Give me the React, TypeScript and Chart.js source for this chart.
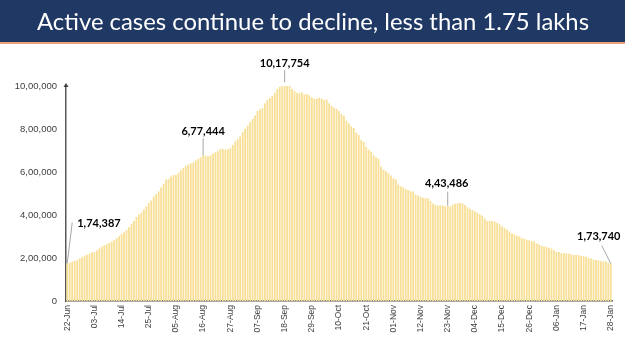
import React, { useEffect, useRef } from 'react';
import { Chart, registerables } from 'chart.js';

Chart.register(...registerables);

const TITLE = 'Active cases continue to decline, less than 1.75 lakhs';
const START = { year: 2020, month: 5, day: 22 };
const DAY_COUNT = 221;
const MONTHS = ['Jan', 'Feb', 'Mar', 'Apr', 'May', 'Jun', 'Jul', 'Aug', 'Sep', 'Oct', 'Nov', 'Dec'];
const TICK_LABELS = [
  '22-Jun', '03-Jul', '14-Jul', '25-Jul', '05-Aug', '16-Aug', '27-Aug', '07-Sep', '18-Sep', '29-Sep', '10-Oct',
  '21-Oct', '01-Nov', '12-Nov', '23-Nov', '04-Dec', '15-Dec', '26-Dec', '06-Jan', '17-Jan', '28-Jan',
];

const JUN = [174387, 178014, 183022, 186514, 189463, 197387, 203051, 210120, 215125];
const JUL = [220114, 226947, 227439, 235433, 244814, 253287, 259557, 264944, 269789, 276682, 283407, 292258, 301609, 311565, 319840, 331146, 342473, 358692, 373379, 390459, 402529, 411133, 426167, 440135, 456071, 467882, 485114, 496988, 509447, 528242, 545318];
const AUG = [565103, 567730, 579357, 586298, 586244, 595501, 607384, 619088, 628747, 634945, 639929, 643948, 653622, 661595, 668220, 677444, 676900, 673166, 676514, 686395, 692028, 697330, 707668, 707267, 704348, 706004, 710771, 725991, 742023, 752424, 765302];
const SEP = [785996, 801282, 815538, 831124, 846395, 862320, 883697, 890349, 897394, 919018, 935628, 943480, 954119, 968377, 986598, 995933, 1009976, 1017754, 1010824, 1002000, 986000, 975861, 968377, 966382, 970116, 960969, 962640, 956402, 947576, 940441];
const OCT = [940705, 944996, 942217, 934427, 937625, 919023, 907883, 899110, 894379, 883185, 868705, 861853, 838729, 826876, 812390, 804528, 783311, 771846, 748538, 740090, 715812, 704003, 694101, 678683, 668154, 661399, 625857, 610803, 603687, 594386, 583303];
const NOV = [570458, 566070, 541405, 533787, 527962, 520773, 516632, 510410, 509673, 494657, 489294, 484547, 480719, 479216, 478000, 465478, 453401, 447027, 443303, 445008, 444746, 440962, 443486, 438667, 447428, 452344, 454940, 455555, 453956, 446805];
const DEC = [435603, 428644, 422943, 416082, 409689, 403248, 396729, 383866, 372293, 373000, 372272, 368725, 363749, 356546, 347000, 339820, 332002, 322366, 313831, 308751, 303639, 300528, 292518, 289240, 285333, 281919, 278690, 277301, 268581, 262272, 257656];
const JAN = [254254, 250183, 247220, 243953, 236308, 228083, 227546, 222526, 222416, 221000, 220900, 216558, 214507, 214000, 213603, 208826, 208012, 206000, 200528, 197201, 192308, 190946, 188688, 184408, 184182, 184673, 176498, 173740];

const ACTIVE_CASES = [...JUN, ...JUL, ...AUG, ...SEP, ...OCT, ...NOV, ...DEC, ...JAN];

const Y_MAX = 1000000;
const Y_STEP = 200000;

// annotated bar indices with label placement offsets (relative to bar top)
const ANNOTATIONS = [
  { index: 0, lx: 5, ly: -41, tx: 10, ty: -40, align: 'left' },
  { index: 55, lx: 0, ly: -17, tx: 0, ty: -24, align: 'center' },
  { index: 88, lx: 0, ly: -12, tx: 0, ty: -19, align: 'center' },
  { index: 154, lx: 0, ly: -14, tx: -1, ty: -22, align: 'center' },
  { index: 220, lx: -9, ly: -18, tx: -12, ty: -27, align: 'center' },
];

function makeDates(): string[] {
  const out: string[] = [];
  for (let i = 0; i < DAY_COUNT; i++) {
    const d = new Date(Date.UTC(START.year, START.month, START.day + i));
    const dd = String(d.getUTCDate()).padStart(2, '0');
    out.push(dd + '-' + MONTHS[d.getUTCMonth()]);
  }
  return out;
}

function indian(n: number): string {
  const s = Math.round(n).toString();
  if (s.length <= 3) return s;
  const last3 = s.slice(-3);
  const rest = s.slice(0, -3).replace(/\B(?=(\d{2})+(?!\d))/g, ',');
  return rest + ',' + last3;
}

const overlayPlugin = {
  id: 'overlay',
  beforeDraw(chart: any) {
    const ctx = chart.ctx;
    const W = chart.width;
    ctx.save();
    ctx.fillStyle = '#ffffff';
    ctx.fillRect(0, 0, W, chart.height);
    ctx.fillStyle = '#203864';
    ctx.fillRect(0, 0, W, 42);
    ctx.fillStyle = '#EE9E78';
    ctx.fillRect(0, 42, W, 2);
    ctx.font = '100px Lato';
    const w100 = ctx.measureText(TITLE).width;
    const size = (100 * 552) / w100;
    ctx.font = `${size.toFixed(2)}px Lato`;
    ctx.fillStyle = '#ffffff';
    ctx.textAlign = 'center';
    ctx.textBaseline = 'middle';
    ctx.fillText(TITLE, 313, 22);
    ctx.restore();
  },
  afterDraw(chart: any) {
    const ctx = chart.ctx;
    const area = chart.chartArea;
    ctx.save();
    // arrow tip on y axis
    ctx.fillStyle = '#404040';
    ctx.beginPath();
    ctx.moveTo(area.left - 2.5, area.top + 1);
    ctx.lineTo(area.left + 2.5, area.top + 1);
    ctx.lineTo(area.left, area.top - 3);
    ctx.closePath();
    ctx.fill();

    const meta = chart.getDatasetMeta(0);
    ctx.font = 'bold 11px Lato';
    ctx.textBaseline = 'middle';
    ANNOTATIONS.forEach((a) => {
      const el = meta.data[a.index];
      if (!el) return;
      const x = el.x;
      const y = el.y;
      ctx.strokeStyle = '#A6A6A6';
      ctx.lineWidth = 1;
      ctx.beginPath();
      ctx.moveTo(x, y);
      ctx.lineTo(x + a.lx, y + a.ly);
      ctx.stroke();
      ctx.fillStyle = '#000000';
      ctx.textAlign = a.align as CanvasTextAlign;
      ctx.fillText(indian(ACTIVE_CASES[a.index]), x + a.tx, y + a.ty);
    });
    ctx.restore();
  },
};

export default function App() {
  const ref = useRef<HTMLCanvasElement | null>(null);

  useEffect(() => {
    document.body.style.margin = '0';
    const canvas = ref.current;
    if (!canvas) return;
    const labels = makeDates();
    const tickSet = new Set(TICK_LABELS);
    const chart = new Chart(canvas, {
      type: 'bar',
      data: {
        labels,
        datasets: [
          {
            data: ACTIVE_CASES,
            backgroundColor: '#F8DF95',
            borderWidth: 0,
            barPercentage: 0.72,
            categoryPercentage: 1,
          },
        ],
      },
      options: {
        animation: false,
        responsive: false,
        maintainAspectRatio: false,
        layout: { padding: { top: 86, right: 11, left: 0, bottom: 0 } },
        plugins: {
          legend: { display: false },
          tooltip: { enabled: false },
          title: { display: false },
        },
        scales: {
          x: {
            grid: { display: false, drawTicks: false },
            border: { display: true, color: '#595959', width: 1.5 },
            ticks: {
              autoSkip: false,
              maxRotation: 90,
              minRotation: 90,
              padding: 4,
              color: '#404040',
              font: { family: 'Liberation Sans', size: 8.5 },
              callback: (_v: any, i: number) => (tickSet.has(labels[i]) ? labels[i] : ''),
            },
            afterFit: (scale: any) => {
              scale.height = 50;
            },
          },
          y: {
            min: 0,
            max: Y_MAX,
            grid: { display: false, drawTicks: false },
            border: { display: true, color: '#595959', width: 1.5 },
            ticks: {
              stepSize: Y_STEP,
              padding: 9,
              color: '#404040',
              font: { family: 'Liberation Sans', size: 9.5 },
              callback: (v: any) => indian(Number(v)),
            },
            afterFit: (scale: any) => {
              scale.width = 66;
            },
          },
        },
      },
      plugins: [overlayPlugin],
    });
    return () => chart.destroy();
  }, []);

  return (
    <div style={{ width: 625, height: 351, position: 'relative' }}>
      <canvas ref={ref} width={625} height={351} style={{ display: 'block', width: 625, height: 351 }} />
    </div>
  );
}
